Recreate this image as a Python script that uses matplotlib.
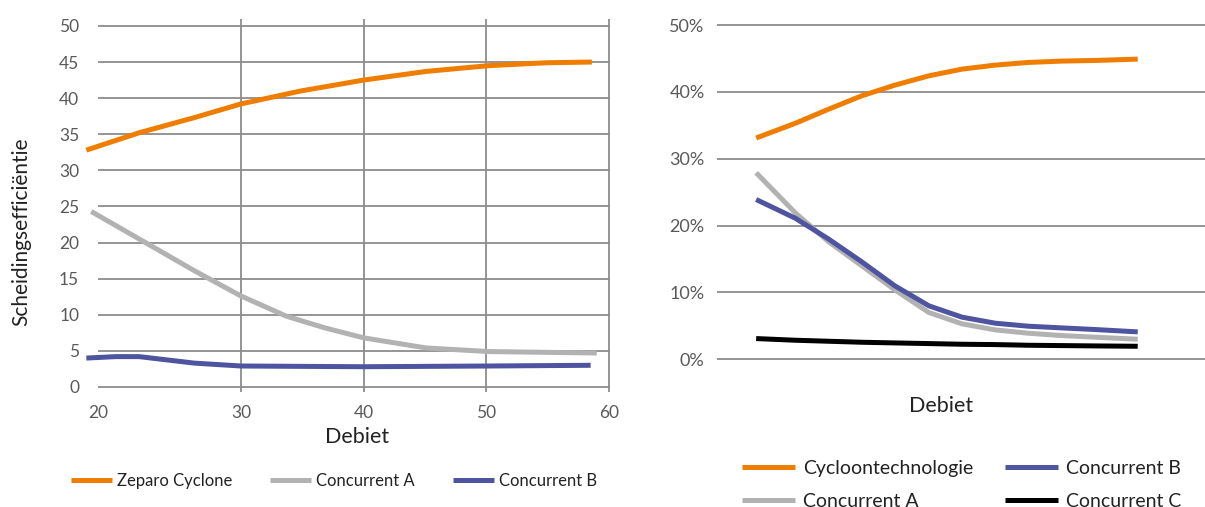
import matplotlib
matplotlib.use("Agg")
import matplotlib.pyplot as plt
from matplotlib.ticker import FuncFormatter

plt.rcParams['font.family'] = ['Lato', 'DejaVu Sans']

ORANGE = '#ef7d00'
GRAY = '#b2b2b2'
BLUE = '#4e54a0'
BLACK = '#000000'
GRID = '#8c8c8c'
TICK = '#5a5a5a'

# left chart: Scheidingsefficiëntie vs Debiet
zeparo_x = [17.4, 21.7, 26.2, 30, 34.9, 40, 45.1, 50.2, 54.9, 58.6]
zeparo_y = [32.8, 35.2, 37.3, 39.2, 41.0, 42.5, 43.7, 44.5, 44.9, 45.0]
conc_a_x = [17.8, 21.7, 26.2, 30, 33.7, 36.8, 40, 45.1, 50.2, 59.0]
conc_a_y = [24.3, 20.5, 16.1, 12.6, 9.8, 8.2, 6.8, 5.4, 4.9, 4.7]
conc_b_x = [17.4, 19.8, 21.7, 26.2, 30, 40, 50.2, 58.5]
conc_b_y = [4.0, 4.2, 4.2, 3.3, 2.9, 2.8, 2.9, 3.0]

left_labels = ['Zeparo Cyclone', 'Concurrent A', 'Concurrent B']

# right chart: percentages vs Debiet (no x tick labels)
debiet_r = [20, 23.9, 27.2, 30.5, 33.8, 37.2, 40.5, 43.8, 47.1, 50.4, 53.8, 58]
cyclo_r = [33.1, 35.3, 37.4, 39.4, 41.0, 42.4, 43.4, 44.0, 44.4, 44.6, 44.7, 44.9]
conc_a_r = [27.9, 21.9, 17.6, 14.0, 10.4, 7.0, 5.3, 4.4, 3.9, 3.55, 3.3, 3.0]
conc_b_r = [23.9, 21.1, 18.0, 14.6, 11.0, 8.0, 6.3, 5.4, 4.95, 4.7, 4.45, 4.1]
conc_c_r = [3.1, 2.85, 2.7, 2.55, 2.45, 2.35, 2.25, 2.2, 2.1, 2.05, 2.0, 1.95]

right_labels = ['Cycloontechnologie', 'Concurrent A', 'Concurrent B', 'Concurrent C']

fig = plt.figure(figsize=(12.05, 5.07), dpi=100)

# ---------- left ----------
ax1 = fig.add_axes([98 / 1205, 1 - 392 / 507, 512 / 1205, 373 / 507])
lw = 3.6
ax1.plot(zeparo_x, zeparo_y, color=ORANGE, lw=lw, clip_on=False, solid_capstyle='butt', label=left_labels[0])
ax1.plot(conc_a_x, conc_a_y, color=GRAY, lw=lw, clip_on=False, solid_capstyle='butt', label=left_labels[1])
ax1.plot(conc_b_x, conc_b_y, color=BLUE, lw=lw, clip_on=False, solid_capstyle='butt', label=left_labels[2])

ax1.set_xlim(18.35, 60.08)
ax1.set_ylim(-0.7, 50.96)
ax1.set_yticks(range(0, 51, 5))
ax1.set_xticks([18.35, 30, 40, 50, 60], labels=['20', '30', '40', '50', '60'])
ax1.grid(True, color=GRID, lw=1.3)
ax1.get_xgridlines()[0].set_visible(False)
ax1.set_axisbelow(True)
for s in ax1.spines.values():
    s.set_visible(False)
ax1.tick_params(length=0, labelsize=12.5, labelcolor=TICK)
ax1.tick_params(axis='x', pad=9)
ax1.tick_params(axis='y', pad=13.5)
ax1.set_xlabel('Debiet', fontsize=15.5, color='#222222')
ax1.xaxis.set_label_coords((357 - 98) / 512, -(427 - 392) / 373)
ax1.set_ylabel('Scheidingsefficiëntie', fontsize=15, color='#222222')
ax1.yaxis.set_label_coords(-(98 - 31) / 512, (392 - 232) / 373)

ax1.legend(loc='center', bbox_to_anchor=(334 / 1205, 1 - 481 / 507), bbox_transform=fig.transFigure,
           ncol=3, frameon=False, fontsize=12, handlelength=2.45, handletextpad=0.3,
           columnspacing=2.3, labelcolor='#222222')

# ---------- right ----------
ax2 = fig.add_axes([717 / 1205, 1 - 361.3 / 507, 488 / 1205, 338.3 / 507])
ax2.plot(debiet_r, cyclo_r, color=ORANGE, lw=lw, solid_capstyle='butt', label=right_labels[0])
ax2.plot(debiet_r, conc_a_r, color=GRAY, lw=lw, solid_capstyle='butt', label=right_labels[1])
ax2.plot(debiet_r, conc_b_r, color=BLUE, lw=lw, solid_capstyle='butt', label=right_labels[2])
ax2.plot(debiet_r, conc_c_r, color=BLACK, lw=lw, solid_capstyle='butt', label=right_labels[3])

ax2.set_xlim(16.1, 64.7)
ax2.set_ylim(-0.3, 50.3)
ax2.set_yticks(range(0, 51, 10))
ax2.yaxis.set_major_formatter(FuncFormatter(lambda v, p: f'{v:.0f}%'))
ax2.set_xticks([])
ax2.grid(True, axis='y', color=GRID, lw=1.3)
ax2.set_axisbelow(True)
for s in ax2.spines.values():
    s.set_visible(False)
ax2.tick_params(length=0, labelsize=13, labelcolor=TICK, pad=9)
ax2.set_xlabel('Debiet', fontsize=15.5, color='#222222')
ax2.xaxis.set_label_coords((941 - 717) / 488, -(396 - 361.3) / 338.3)

# the second legend row is cut by the bottom edge, as in the original
ax2.legend(loc='upper left', bbox_to_anchor=(732 / 1205, 1 - 450 / 507), bbox_transform=fig.transFigure,
           ncol=2, frameon=False, fontsize=14, handlelength=2.73, handletextpad=0.41,
           columnspacing=1.65, labelspacing=0.83, borderpad=0, labelcolor='#222222')

fig.savefig('out.png', dpi=100)
